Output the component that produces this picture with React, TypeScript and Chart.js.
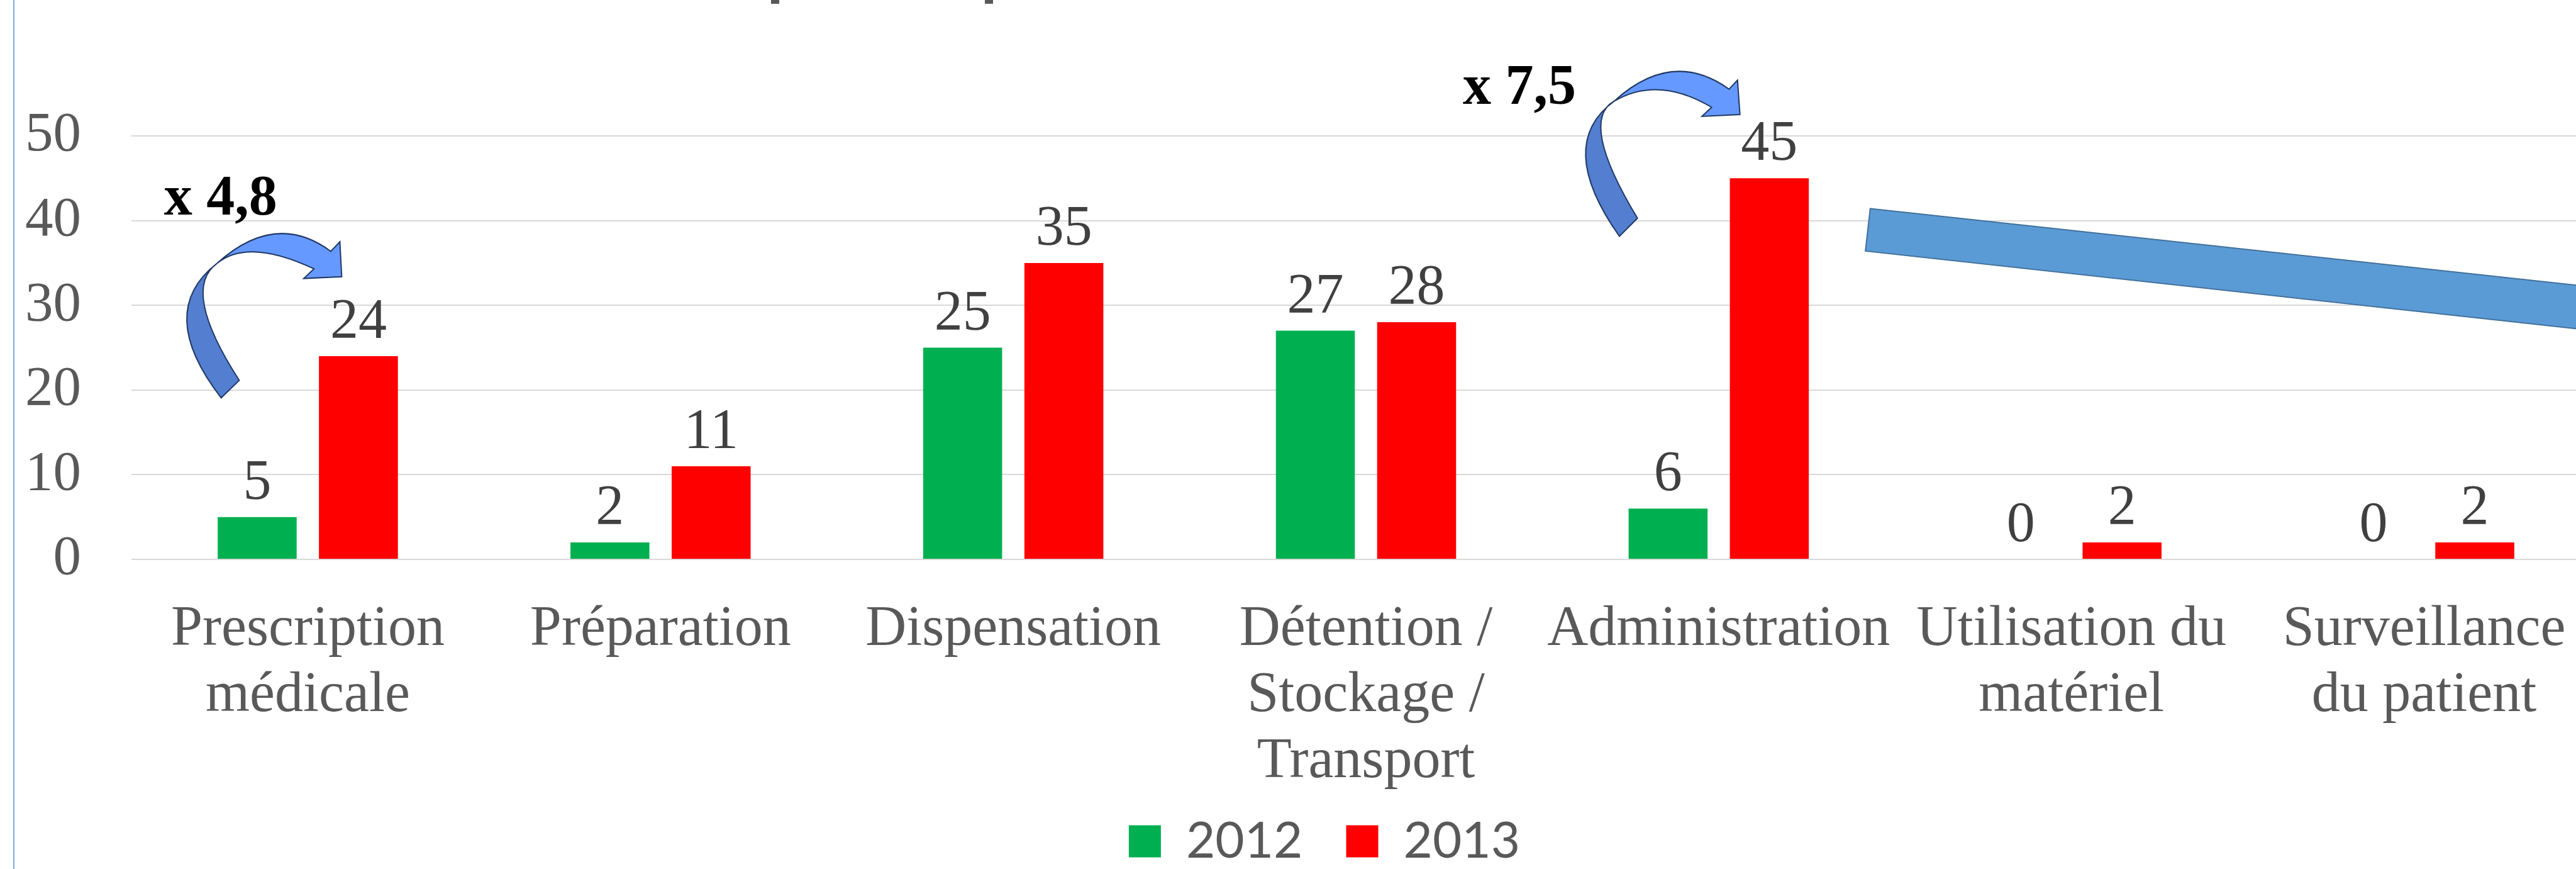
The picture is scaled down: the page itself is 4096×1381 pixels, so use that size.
import React, { useEffect, useRef } from 'react';
import { Chart, registerables } from 'chart.js';

Chart.register(...registerables);

// ---------- data ----------
const categories: string[][] = [
  ['Prescription', 'médicale'],
  ['Préparation'],
  ['Dispensation'],
  ['Détention /', 'Stockage /', 'Transport'],
  ['Administration'],
  ['Utilisation du', 'matériel'],
  ['Surveillance', 'du patient'],
];
const seriesNames = ['2012', '2013'];
const values2012 = [5, 2, 25, 27, 6, 0, 0];
const values2013 = [24, 11, 35, 28, 45, 2, 2];
const yTicks = [0, 10, 20, 30, 40, 50];
const ratioLabels = ['x 4,8', 'x 7,5'];

// ---------- annotation geometry (category index, value) ----------
type Pt = [number, number];
const arrowShapes: Record<string, Pt>[] = [
  {
    twist: [-0.2575, 34.95], outerTop: [-0.0935, 38.43], outerNotch: [0.0653, 36.37],
    tipTop: [0.0909, 37.51], tipBR: [0.0961, 33.38], headBack: [-0.0115, 33.17],
    innerNotch: [0.0175, 34.31], innerTop: [-0.1448, 36.3], stemOuterMid: [-0.3429, 28.11],
    tailOuter: [-0.2455, 19.07], tailInner: [-0.1943, 21.14], stemInnerMid: [-0.2933, 29.96],
  },
  {
    twist: [3.7032, 54.09], outerTop: [3.8672, 57.58], outerNotch: [4.0294, 55.52],
    tipTop: [4.0533, 56.58], tipBR: [4.0602, 52.53], headBack: [3.9526, 52.31],
    innerNotch: [3.9799, 53.38], innerTop: [3.8347, 55.44], stemOuterMid: [3.6229, 47.54],
    tailOuter: [3.7185, 38.15], tailInner: [3.7697, 40.28], stemInnerMid: [3.6698, 49.47],
  },
];
const ratioAnchors: Pt[] = [[-0.4078, 40.71], [3.2745, 53.81]];
const bandShape: Pt[] = [[4.4296, 41.42], [6.8134, 30.64], [6.8134, 25.5], [4.4159, 36.41]];

const SERIF = "'Liberation Serif', 'Times New Roman', serif";
const SANS = "Lato, 'Open Sans', sans-serif";

const W = 4212;
const H = 1381;

const annotationPlugin = {
  id: 'annotations',
  afterDatasetsDraw(chart: any) {
    const { ctx, scales } = chart;
    const xs = scales.x;
    const ys = scales.y;
    const P = (p: Pt): Pt => [xs.getPixelForValue(p[0]), ys.getPixelForValue(p[1])];
    const quadThrough = (p0: Pt, m: Pt, p2: Pt) => {
      const cx = 2 * m[0] - (p0[0] + p2[0]) / 2;
      const cy = 2 * m[1] - (p0[1] + p2[1]) / 2;
      ctx.quadraticCurveTo(cx, cy, p2[0], p2[1]);
    };

    ctx.save();

    // data labels
    chart.data.datasets.forEach((ds: any, di: number) => {
      const meta = chart.getDatasetMeta(di);
      meta.data.forEach((bar: any, i: number) => {
        ctx.font = `90px ${SERIF}`;
        ctx.fillStyle = '#404040';
        ctx.textAlign = 'center';
        ctx.textBaseline = 'alphabetic';
        ctx.fillText(String(ds.data[i]), bar.x, bar.y - 29);
      });
    });

    // curved arrows
    arrowShapes.forEach((a) => {
      const q: Record<string, Pt> = {};
      Object.keys(a).forEach((k) => (q[k] = P(a[k])));
      ctx.lineWidth = 2;
      ctx.strokeStyle = '#1F3864';
      ctx.lineJoin = 'miter';
      // stem (back side)
      ctx.beginPath();
      ctx.moveTo(q.tailOuter[0], q.tailOuter[1]);
      quadThrough(q.tailOuter, q.stemOuterMid, q.twist);
      quadThrough(q.twist, q.stemInnerMid, q.tailInner);
      ctx.closePath();
      ctx.fillStyle = '#547ECF';
      ctx.fill();
      ctx.stroke();
      // upper arc with head
      ctx.beginPath();
      ctx.moveTo(q.twist[0], q.twist[1]);
      quadThrough(q.twist, q.outerTop, q.outerNotch);
      ctx.lineTo(q.tipTop[0], q.tipTop[1]);
      ctx.lineTo(q.tipBR[0], q.tipBR[1]);
      ctx.lineTo(q.headBack[0], q.headBack[1]);
      ctx.lineTo(q.innerNotch[0], q.innerNotch[1]);
      quadThrough(q.innerNotch, q.innerTop, q.twist);
      ctx.closePath();
      ctx.fillStyle = '#6699FF';
      ctx.fill();
      ctx.stroke();
    });

    // ratio texts
    ratioLabels.forEach((t, i) => {
      const p = P(ratioAnchors[i]);
      ctx.font = `bold 90px ${SERIF}`;
      ctx.fillStyle = '#000000';
      ctx.textAlign = 'left';
      ctx.textBaseline = 'alphabetic';
      ctx.fillText(t, p[0], p[1]);
    });

    // big block arrow band
    ctx.beginPath();
    bandShape.forEach((b, i) => {
      const p = P(b);
      if (i === 0) ctx.moveTo(p[0], p[1]);
      else ctx.lineTo(p[0], p[1]);
    });
    ctx.closePath();
    ctx.fillStyle = '#5B9BD5';
    ctx.fill();
    ctx.lineWidth = 2;
    ctx.strokeStyle = '#41719C';
    ctx.stroke();

    // remnants of the cropped title
    ctx.fillStyle = '#595959';
    ctx.fillRect(1226, 0, 13, 6);
    ctx.fillRect(1566, 0, 13, 6);

    ctx.restore();
  },
};

export default function App() {
  const ref = useRef<HTMLCanvasElement | null>(null);

  useEffect(() => {
    if (!ref.current) return;
    const noClip = () => undefined;
    const chart = new Chart(ref.current, {
      type: 'bar',
      data: {
        labels: categories,
        datasets: [
          { label: seriesNames[0], data: values2012, backgroundColor: '#00B050', borderWidth: 0 },
          { label: seriesNames[1], data: values2013, backgroundColor: '#FF0000', borderWidth: 0 },
        ],
      },
      options: {
        responsive: false,
        maintainAspectRatio: false,
        devicePixelRatio: 1,
        animation: false,
        datasets: { bar: { categoryPercentage: 0.574, barPercentage: 0.78 } },
        layout: { padding: { top: 216, left: 77, right: W - 4135, bottom: -6 } },
        scales: {
          x: {
            grid: { display: false, drawTicks: false },
            border: { display: false },
            ticks: {
              color: '#595959',
              font: { family: SERIF, size: 90, lineHeight: 105 / 90 },
              padding: 60,
              maxRotation: 0,
              minRotation: 0,
              autoSkip: false,
            },
            afterFit: (s: any) => {
              s.height = 339;
              s._computeLabelArea = noClip;
            },
          },
          y: {
            min: 0,
            max: 50,
            grid: { color: '#D9D9D9', lineWidth: 2, drawTicks: false },
            border: { display: false },
            ticks: {
              color: '#595959',
              font: { family: SERIF, size: 89 },
              padding: 80,
            },
            afterBuildTicks: (s: any) => {
              s.ticks = yTicks.map((v) => ({ value: v }));
            },
            afterFit: (s: any) => {
              s.width = 132;
              s._computeLabelArea = noClip;
            },
          },
        },
        plugins: {
          legend: {
            position: 'bottom',
            labels: {
              boxWidth: 51,
              boxHeight: 51,
              padding: 69,
              color: '#595959',
              font: { family: SANS, size: 80 },
            },
          },
          tooltip: { enabled: false },
          title: { display: false },
        },
      },
      plugins: [annotationPlugin],
    } as any);
    return () => chart.destroy();
  }, []);

  return (
    <div
      style={{
        position: 'fixed',
        left: 0,
        top: 0,
        width: 4096,
        height: 1381,
        overflow: 'hidden',
        background: '#ffffff',
      }}
    >
      <canvas ref={ref} width={W} height={H} style={{ position: 'absolute', left: 0, top: 0 }} />
      <div
        style={{
          position: 'absolute',
          left: 21,
          top: 0,
          width: 2,
          height: 1381,
          background: '#7FA8DF',
        }}
      />
    </div>
  );
}
